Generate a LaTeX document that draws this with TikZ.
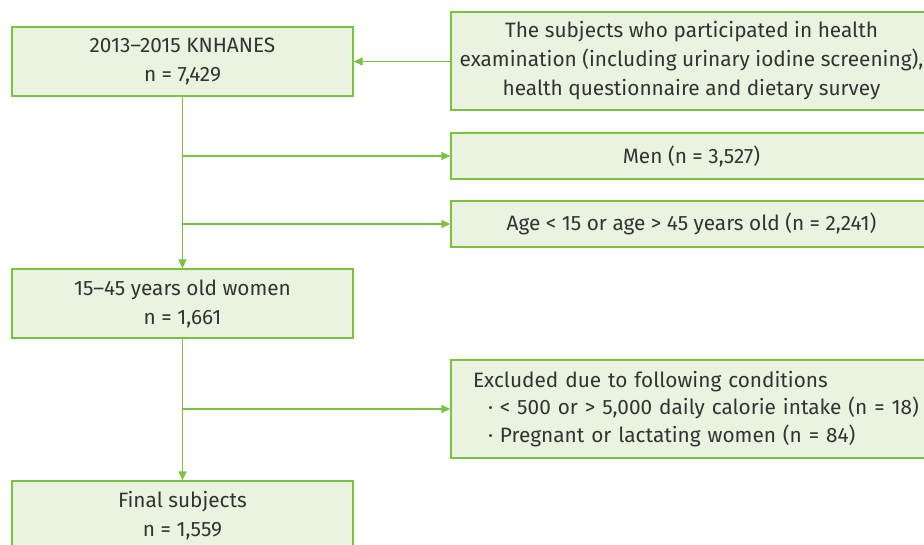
\documentclass[tikz,border=0pt]{standalone}
\usepackage{fontspec}
\setmainfont{Fira Sans}
\usetikzlibrary{arrows.meta}
\definecolor{bord}{HTML}{7CC242}
\definecolor{boxfill}{HTML}{EAF3DF}
\definecolor{txt}{HTML}{333333}
\tikzset{
  box/.style={draw=bord, fill=boxfill, line width=1.3pt, text=txt, align=center,
    inner sep=0pt, font=\fontsize{20.8}{29}\selectfont},
  arr/.style={draw=bord, line width=1.3pt, -{Triangle[length=9pt,width=8pt]}},
  ln/.style={draw=bord, line width=1.3pt}
}
\begin{document}
\begin{tikzpicture}[x=1pt,y=-1pt]
\useasboundingbox (0,0) rectangle (924,545);
\node[box, minimum width=341pt, minimum height=69pt] (A) at (182.5,61.5) {2013–2015 KNHANES\\n = 7,429};
\node[box, minimum width=481pt, minimum height=98pt] (B) at (691.5,61) {The subjects who participated in health\\examination (including urinary iodine screening),\\health questionnaire and dietary survey};
\node[box, minimum width=481pt, minimum height=46pt] (M) at (691.5,156) {Men (n = 3,527)};
\node[box, minimum width=481pt, minimum height=46pt] (G) at (691.5,224) {Age < 15 or age > 45 years old (n = 2,241)};
\node[box, minimum width=341pt, minimum height=69pt] (C) at (182.5,303.5) {15–45 years old women\\n = 1,661};
\node[box, minimum width=481pt, minimum height=98pt, text width=437pt, align=left, font=\fontsize{20.8}{27.5}\selectfont] (E) at (691.5,409) {\mbox{Excluded due to following conditions}\\\mbox{\hspace*{15pt}· < 500 or > 5,000 daily calorie intake (n = 18)}\\\mbox{\hspace*{15pt}· Pregnant or lactating women (n = 84)}};
\node[box, minimum width=341pt, minimum height=69pt] (F) at (182.5,515.5) {Final subjects\\n = 1,559};
\draw[arr] (B.west |- A.east) -- (A.east);
\draw[arr] (A.south) -- (C.north);
\coordinate (b1) at (A.south |- M.west);
\coordinate (b2) at (A.south |- G.west);
\draw[arr] (b1) -- (M.west);
\draw[arr] (b2) -- (G.west);
\draw[arr] (C.south) -- (F.north);
\coordinate (b3) at (C.south |- E.west);
\draw[arr] (b3) -- (E.west);
\end{tikzpicture}
\end{document}
